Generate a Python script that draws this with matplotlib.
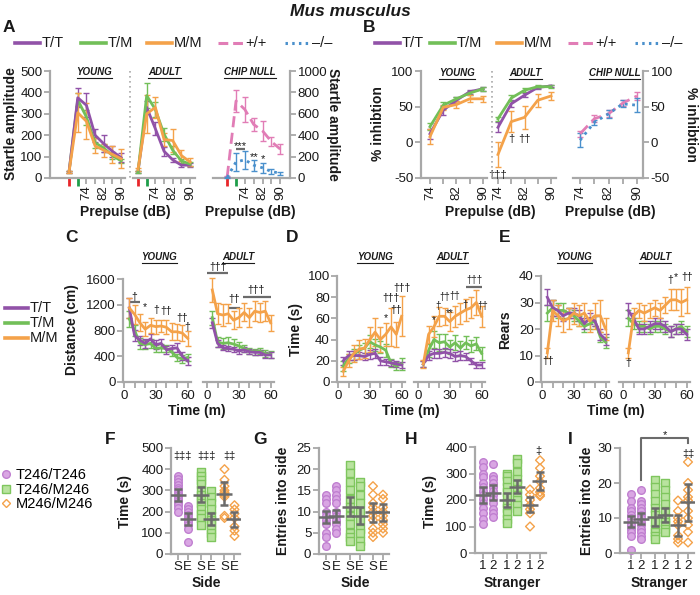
import numpy as np
import matplotlib
matplotlib.use('Agg')
import matplotlib.pyplot as plt
from matplotlib.lines import Line2D

plt.rcParams['font.family'] = ['Liberation Sans', 'DejaVu Sans']
plt.rcParams['axes.unicode_minus'] = False

# ---------------- data ----------------
PP_IDX = [0, 1, 2, 3, 4, 5, 6]          # startle only, pulse alone, 74..90 dB prepulse
PP_TICKLABELS = ['', '', '74', '', '82', '', '90']

A_YOUNG_TT = [30, 375, 340, 200, 160, 125, 95]
A_YOUNG_TT_ERR = [5, 45, 55, 30, 40, 25, 20]
A_YOUNG_TM = [30, 365, 285, 165, 140, 105, 80]
A_YOUNG_TM_ERR = [5, 30, 35, 25, 20, 15, 10]
A_YOUNG_MM = [30, 305, 265, 150, 130, 110, 90]
A_YOUNG_MM_ERR = [5, 90, 85, 35, 30, 40, 45]
A_ADULT_TT = [30, 330, 230, 125, 85, 60, 60]
A_ADULT_TT_ERR = [5, 30, 30, 20, 10, 8, 8]
A_ADULT_TM = [30, 385, 320, 205, 130, 80, 65]
A_ADULT_TM_ERR = [5, 60, 35, 30, 20, 10, 10]
A_ADULT_MM = [40, 300, 330, 180, 175, 105, 75]
A_ADULT_MM_ERR = [5, 90, 50, 30, 55, 25, 20]
A_CHIP_WT = [10, 720, 640, 500, 440, 340, 270]
A_CHIP_WT_ERR = [5, 100, 120, 60, 90, 40, 50]
A_CHIP_KO = [5, 150, 170, 120, 95, 60, 45]
A_CHIP_KO_ERR = [3, 80, 85, 50, 45, 25, 15]
A_CHIP_SIG = [(1.5, 300, '***'), (3, 200, '**'), (4, 175, '*')]
A_CHIP_BAR = [(1, 2, 275)]

PP_DB = [74, 78, 82, 86, 90]
B_YOUNG_TT = [12, 45, 59, 71, 75]
B_YOUNG_TT_ERR = [7, 6, 4, 3, 3]
B_YOUNG_TM = [22, 52, 61, 69, 75]
B_YOUNG_TM_ERR = [5, 5, 3, 3, 3]
B_YOUNG_MM = [8, 49, 53, 61, 61]
B_YOUNG_MM_ERR = [10, 4, 5, 5, 4]
B_ADULT_TT = [21, 54, 66, 77, 79]
B_ADULT_TT_ERR = [7, 5, 3, 2, 2]
B_ADULT_TM = [33, 62, 73, 78, 78]
B_ADULT_TM_ERR = [3, 4, 3, 2, 2]
B_ADULT_MM = [-17, 29, 35, 59, 65]
B_ADULT_MM_ERR = [18, 15, 16, 9, 5]
B_CHIP_WT = [12, 33, 40, 55, 65]
B_CHIP_WT_ERR = [4, 5, 5, 4, 6]
B_CHIP_KO = [3, 28, 40, 54, 52]
B_CHIP_KO_ERR = [10, 4, 6, 5, 10]
B_ADULT_SIG = [(78, 5, '†'), (82, 5, '††'), (74, -46, '†††')]

TIME_MIN = [5, 10, 15, 20, 25, 30, 35, 40, 45, 50, 55, 60]
C_YOUNG_TT = [1150, 720, 650, 600, 670, 580, 600, 500, 520, 530, 400, 330]
C_YOUNG_TM = [980, 800, 600, 580, 600, 520, 530, 520, 470, 380, 360, 380]
C_YOUNG_MM = [1150, 1050, 920, 820, 880, 860, 870, 850, 780, 780, 760, 680]
C_YOUNG_TT_ERR = [150, 90, 70, 70, 80, 70, 70, 60, 60, 70, 60, 60]
C_YOUNG_TM_ERR = [120, 90, 80, 70, 70, 60, 60, 60, 60, 60, 60, 60]
C_YOUNG_MM_ERR = [160, 150, 130, 110, 120, 110, 100, 110, 130, 120, 130, 120]
C_ADULT_TT = [920, 600, 530, 520, 510, 480, 500, 470, 460, 460, 420, 420]
C_ADULT_TM = [1000, 620, 600, 610, 590, 560, 520, 480, 470, 480, 440, 430]
C_ADULT_MM = [1430, 1060, 1040, 1060, 960, 1000, 1080, 1000, 1100, 1080, 1100, 920]
C_ADULT_TT_ERR = [80, 50, 40, 40, 40, 40, 40, 40, 40, 40, 40, 40]
C_ADULT_TM_ERR = [110, 80, 90, 90, 80, 60, 60, 50, 50, 50, 50, 50]
C_ADULT_MM_ERR = [180, 160, 170, 150, 140, 150, 140, 150, 160, 150, 160, 120]
C_YOUNG_SIG = [(10, 1320, '†'), (20, 1160, '*'), (30, 1120, '†'), (40, 1110, '††'), (55, 990, '††'), (60, 860, '†')]
C_YOUNG_BAR = [(6, 15, 1240)]
C_ADULT_SIG = [(10, 1780, '†††'), (26, 1290, '††'), (46, 1430, '†††')]
C_ADULT_BAR = [(0, 20, 1690), (21, 31, 1150), (34, 60, 1320)]

D_YOUNG_TT = [20, 25, 25, 25, 24, 26, 27, 20, 19, 18, 17, 16]
D_YOUNG_TM = [15, 22, 26, 30, 32, 38, 35, 33, 30, 18, 15, 17]
D_YOUNG_MM = [10, 20, 27, 31, 32, 40, 47, 40, 45, 52, 45, 62]
D_YOUNG_TT_ERR = [4, 4, 4, 3, 3, 4, 4, 4, 3, 3, 3, 3]
D_YOUNG_TM_ERR = [5, 4, 5, 5, 5, 6, 6, 6, 6, 4, 4, 6]
D_YOUNG_MM_ERR = [4, 6, 8, 9, 9, 12, 13, 12, 11, 18, 12, 19]
D_ADULT_TT = [17, 25, 27, 27, 28, 27, 24, 25, 24, 20, 16, 16]
D_ADULT_TM = [17, 30, 40, 37, 38, 33, 37, 32, 37, 34, 36, 27]
D_ADULT_MM = [17, 45, 52, 62, 62, 57, 62, 65, 68, 70, 75, 62]
D_ADULT_TT_ERR = [3, 4, 4, 4, 4, 4, 4, 4, 3, 3, 3, 3]
D_ADULT_TM_ERR = [3, 6, 8, 8, 7, 7, 7, 7, 6, 6, 6, 6]
D_ADULT_MM_ERR = [4, 8, 10, 9, 8, 9, 10, 10, 10, 10, 12, 10]
D_YOUNG_SIG = [(45, 60, '*'), (50, 79, '†††'), (55, 68, '††'), (60, 89, '†††')]
D_ADULT_SIG = [(15, 58, '*'), (19, 72, '†'), (25, 80, '††'), (30, 65, '**'), (35, 81, '††'), (44, 73, '†'), (53, 96, '†††'), (61, 72, '††')]
D_ADULT_BAR = [(45, 60, 90)]

E_YOUNG_TT = [32, 28, 27, 25, 26, 26, 25, 22, 24, 23, 18, 16]
E_YOUNG_TM = [26, 28, 27, 27, 26, 25, 23, 21, 22, 23, 17, 15]
E_YOUNG_MM = [11, 27, 25, 23, 24, 26, 25, 26, 23, 25, 25, 20]
E_YOUNG_TT_ERR = [3, 3, 2, 2, 2, 2, 2, 2, 2, 2, 2, 2]
E_YOUNG_TM_ERR = [3, 3, 3, 3, 2, 2, 2, 2, 2, 2, 2, 2]
E_YOUNG_MM_ERR = [2, 4, 4, 4, 4, 4, 4, 4, 4, 5, 6, 4]
E_ADULT_TT = [27, 24, 20, 20, 21, 22, 22, 21, 19, 20, 20, 18]
E_ADULT_TM = [24, 22, 21, 21, 20, 21, 21, 20, 19, 20, 21, 19]
E_ADULT_MM = [11, 25, 27, 26, 27, 28, 27, 29, 31, 31, 30, 31]
E_ADULT_TT_ERR = [3, 2, 2, 2, 2, 2, 2, 2, 2, 2, 2, 2]
E_ADULT_TM_ERR = [3, 2, 2, 2, 2, 2, 2, 2, 2, 2, 2, 2]
E_ADULT_MM_ERR = [2, 3, 3, 3, 3, 3, 3, 3, 4, 4, 5, 5]
E_YOUNG_SIG = [(6, 8, '††')]
E_ADULT_SIG = [(5, 7, '†'), (45, 38.5, '†'), (50, 39.5, '*'), (60, 39.5, '††')]

GENOTYPES = ['T246/T246', 'T246/M246', 'M246/M246']
CAT_POS = [0, 1, 2.35, 3.35, 4.7, 5.7]
SIDE_LABELS = ['S', 'E', 'S', 'E', 'S', 'E']
STRANGER_LABELS = ['1', '2', '1', '2', '1', '2']

F_POINTS = [
    [370, 355, 340, 325, 310, 300, 290, 280, 270, 260, 250, 240, 230, 215, 200],
    [225, 210, 200, 185, 170, 160, 150, 135, 120, 55],
    [385, 370, 350, 330, 300, 280, 255, 240, 210, 190, 170, 135],
    [295, 270, 240, 210, 180, 160, 140, 120, 100, 80],
    [400, 350, 320, 300, 290, 280, 270, 180, 170],
    [230, 210, 190, 170, 130, 110, 85],
]
F_MEAN = [280, 165, 280, 167, 285, 163]
F_ERR = [28, 30, 35, 28, 55, 37]
F_SIG = [(0.5, 462, '‡‡‡'), (2.85, 462, '‡‡‡'), (5.2, 462, '‡‡')]

G_POINTS = [
    [14, 13, 12, 10, 9, 8, 7, 5, 4, 2],
    [16, 15, 14, 13, 12, 10, 9, 8, 7, 6, 5],
    [21, 19, 17, 15, 13, 11, 9, 7, 5, 4, 3],
    [17, 16, 14, 12, 10, 8, 6, 5, 3, 2],
    [16, 14, 12, 11, 10, 9, 8, 6, 5, 4],
    [14, 13, 11, 10, 9, 8, 7, 6, 5],
]
G_MEAN = [8.7, 9.0, 11.2, 9.0, 9.8, 9.8]
G_ERR = [1.5, 1.4, 2.3, 2.0, 2.3, 2.0]

H_POINTS = [
    [345, 325, 300, 285, 265, 250, 235, 220, 205, 190, 170, 150, 130, 110],
    [335, 290, 280, 265, 250, 235, 220, 205, 190, 165, 150, 135],
    [300, 290, 270, 250, 230, 210, 190, 170, 150, 130, 115],
    [355, 340, 305, 280, 260, 240, 220, 200, 180, 160],
    [240, 220, 200, 180, 165, 150, 100],
    [350, 320, 290, 270, 245, 230, 220, 215],
]
H_MEAN = [220, 228, 200, 250, 183, 272]
H_ERR = [30, 28, 25, 25, 30, 35]
H_SIG = [(5.55, 385, '‡')]

I_POINTS = [
    [17, 15, 13, 12, 11, 10, 9, 8, 7, 6, 5, 1],
    [18, 15, 14, 13, 12, 11, 10, 9, 8, 7, 6, 5, 4],
    [21, 19, 17, 15, 13, 11, 9, 7, 6, 5, 4],
    [20, 18, 16, 14, 12, 10, 9, 8, 7, 6],
    [15, 12, 10, 9, 8, 5, 4, 3],
    [26, 20, 18, 16, 15, 12, 10, 8, 6, 3],
]
I_MEAN = [9.0, 9.8, 10.2, 10.8, 8.0, 14.5]
I_ERR = [1.5, 1.6, 2.6, 2.0, 3.0, 5.3]
I_SIG = [(5.7, 28.3, '‡‡')]
I_BRACKET = (1, 5.7, 21, 32.8, 31.3)   # from x1 to x2, left foot, top, right foot
I_BRACKET_TEXT = (3.35, 33.8, '*')

LEGEND_LABELS = ['T/T', 'T/M', 'M/M', '+/+', '–/–']

# ---------------- style ----------------
PURPLE = '#9152a8'
GREEN = '#72bf58'
ORANGE = '#f4a24a'
PINK = '#e17db6'
BLUE = '#4a90cc'
GRAY = '#a8a8a8'
DGRAY = '#6b6b6b'
TXT = '#1a1a1a'
TICKFS = 9.5
LABFS = 10

W, H = 700, 595
fig = plt.figure(figsize=(7, 5.95), dpi=100)

def box(l, t, r, b):
    return fig.add_axes([l / W, 1 - b / H, (r - l) / W, (b - t) / H])

def ftext(x, y, s, **kw):
    kw.setdefault('color', TXT)
    return fig.text(x / W, 1 - y / H, s, **kw)

def style(ax, yside='left'):
    ax.patch.set_alpha(0)
    ax.spines['top'].set_visible(False)
    ax.spines['left'].set_visible(yside == 'left')
    ax.spines['right'].set_visible(yside == 'right')
    for s in ax.spines.values():
        s.set_color(GRAY)
        s.set_linewidth(1.6)
    ax.tick_params(color=GRAY, width=1.3, length=4, labelsize=TICKFS, pad=1.5, labelcolor=TXT)
    if yside == 'right':
        ax.yaxis.tick_right()
    elif yside is None:
        ax.tick_params(axis='y', left=False, labelleft=False)

def series(ax, x, y, err, color, ls='-', z=3):
    kw = dict(color=color, lw=2.0, elinewidth=1.0, capsize=2.0, capthick=1.0, clip_on=False, zorder=z)
    if ls == '--':
        c = ax.errorbar(x, y, yerr=err, ls='--', dashes=(4, 2), **kw)
    elif ls == ':':
        c = ax.errorbar(x, y, yerr=err, ls=':', **kw)
    else:
        c = ax.errorbar(x, y, yerr=err, ls='-', **kw)
    for bar in c[2]:
        bar.set_clip_on(False)
    return c

def sig(ax, items, fs=8):
    for x, y, s in items:
        ax.text(x, y, s, ha='center', va='center', fontsize=fs, color=TXT, clip_on=False)

def bars(ax, items):
    for x0, x1, y in items:
        ax.plot([x0, x1], [y, y], color=DGRAY, lw=1.6, clip_on=False, solid_capstyle='butt')

underline = []
def title(x, y, s):
    t = ftext(x, y, s, fontsize=7, fontweight='bold', fontstyle='italic', ha='center', va='center')
    underline.append(t)

def vline(x, y0, y1):
    fig.add_artist(Line2D([x / W, x / W], [1 - y0 / H, 1 - y1 / H], color=GRAY, lw=1.2, ls=(0, (1, 2))))

LEG_STYLES = [dict(color=PURPLE, lw=2.6), dict(color=GREEN, lw=2.6), dict(color=ORANGE, lw=2.6),
              dict(color=PINK, lw=2.2, ls=(0, (3.2, 1.6))), dict(color=BLUE, lw=2.2, ls=(0, (0.8, 1.4)))]

def legend_row(starts, y, labels, styles, hl=25, gap=2, fs=10.5):
    for x0, lab, st in zip(starts, labels, styles):
        fig.add_artist(Line2D([x0 / W, (x0 + hl) / W], [1 - y / H, 1 - y / H], **st))
        ftext(x0 + hl + gap, y, lab, fontsize=fs, ha='left', va='center')

# ---------------- header ----------------
ftext(350, 12, 'Mus musculus', fontsize=12.5, fontweight='bold', fontstyle='italic', ha='center', va='center')
for x, y, s in [(9, 28, 'A'), (369, 28, 'B'), (71, 238, 'C'), (292, 238, 'D'), (505, 238, 'E'),
                (110, 439, 'F'), (260, 439, 'G'), (411, 439, 'H'), (570, 439, 'I')]:
    ftext(x, y, s, fontsize=12.5, fontweight='bold', ha='center', va='center')

legend_row([15, 81, 147, 218, 285], 43, LEGEND_LABELS, LEG_STYLES)
legend_row([375, 430, 497, 568, 635], 43, LEGEND_LABELS, LEG_STYLES)

# ---------------- panel A ----------------
def pp_axis(ax):
    ax.set_xticks(PP_IDX)
    ax.set_xticklabels(PP_TICKLABELS, rotation=90)
    ticks = ax.xaxis.get_major_ticks()
    ticks[0].tick1line.set_markeredgecolor('#e8262a')
    ticks[1].tick1line.set_markeredgecolor('#1e9e4a')
    for t in ticks[:2]:
        t.tick1line.set_markeredgewidth(2.0)
        t.tick1line.set_markersize(6)

axA1 = box(50, 71, 125, 178)
style(axA1, 'left')
axA1.set_xlim(-2.2, 6.45)
axA1.set_ylim(0, 500)
axA1.set_yticks([0, 100, 200, 300, 400, 500])
pp_axis(axA1)
series(axA1, PP_IDX, A_YOUNG_TM, A_YOUNG_TM_ERR, GREEN)
series(axA1, PP_IDX, A_YOUNG_TT, A_YOUNG_TT_ERR, PURPLE)
series(axA1, PP_IDX, A_YOUNG_MM, A_YOUNG_MM_ERR, ORANGE)

axA2 = box(133, 71, 195, 178)
style(axA2, None)
axA2.set_xlim(-0.58, 6.57)
axA2.set_ylim(0, 500)
pp_axis(axA2)
series(axA2, PP_IDX, A_ADULT_TT, A_ADULT_TT_ERR, PURPLE)
series(axA2, PP_IDX, A_ADULT_TM, A_ADULT_TM_ERR, GREEN)
series(axA2, PP_IDX, A_ADULT_MM, A_ADULT_MM_ERR, ORANGE)

axA3 = box(213, 71, 290, 178)
style(axA3, 'right')
axA3.set_xlim(-1.6, 7.1)
axA3.set_ylim(0, 1000)
axA3.set_yticks([0, 200, 400, 600, 800, 1000])
pp_axis(axA3)
series(axA3, PP_IDX, A_CHIP_WT, A_CHIP_WT_ERR, PINK, ls='--')
series(axA3, PP_IDX, A_CHIP_KO, A_CHIP_KO_ERR, BLUE, ls=':')
bars(axA3, A_CHIP_BAR)
sig(axA3, A_CHIP_SIG, fs=8)

vline(130, 71, 178)
title(94.5, 72, 'YOUNG'); title(164.5, 72, 'ADULT'); title(250, 72, 'CHIP NULL')
ftext(11, 124, 'Startle amplitude', fontsize=LABFS, fontweight='bold', rotation=90, ha='center', va='center')
ftext(333, 124, 'Startle amplitude', fontsize=LABFS, fontweight='bold', rotation=270, ha='center', va='center')
ftext(125, 212, 'Prepulse (dB)', fontsize=LABFS, fontweight='bold', ha='center', va='center')
ftext(250, 212, 'Prepulse (dB)', fontsize=LABFS, fontweight='bold', ha='center', va='center')

# ---------------- panel B ----------------
def db_axis(ax):
    ax.set_xticks(PP_DB)
    ax.set_xticklabels(['74', '', '82', '', '90'], rotation=90)

axB1 = box(421, 71, 487, 178)
style(axB1, 'left')
axB1.set_xlim(71.3, 91.2)
axB1.set_ylim(-50, 100)
axB1.set_yticks([-50, 0, 50, 100])
db_axis(axB1)
series(axB1, PP_DB, B_YOUNG_TT, B_YOUNG_TT_ERR, PURPLE)
series(axB1, PP_DB, B_YOUNG_TM, B_YOUNG_TM_ERR, GREEN)
series(axB1, PP_DB, B_YOUNG_MM, B_YOUNG_MM_ERR, ORANGE)

axB2 = box(494, 71, 556, 178)
style(axB2, None)
axB2.set_xlim(72.8, 91.5)
axB2.set_ylim(-50, 100)
db_axis(axB2)
series(axB2, PP_DB, B_ADULT_TT, B_ADULT_TT_ERR, PURPLE)
series(axB2, PP_DB, B_ADULT_TM, B_ADULT_TM_ERR, GREEN)
series(axB2, PP_DB, B_ADULT_MM, B_ADULT_MM_ERR, ORANGE)
sig(axB2, B_ADULT_SIG, fs=8)

axB3 = box(573, 71, 643, 178)
style(axB3, 'right')
axB3.set_xlim(72.0, 91.7)
axB3.set_ylim(-50, 100)
axB3.set_yticks([-50, 0, 50, 100])
db_axis(axB3)
series(axB3, PP_DB, B_CHIP_WT, B_CHIP_WT_ERR, PINK, ls='--')
series(axB3, PP_DB, B_CHIP_KO, B_CHIP_KO_ERR, BLUE, ls=':')

vline(492, 71, 178)
title(457, 73, 'YOUNG'); title(525.5, 73, 'ADULT'); title(614.5, 73, 'CHIP NULL')
ftext(378, 124, '% inhibtion', fontsize=LABFS, fontweight='bold', rotation=90, ha='center', va='center')
ftext(691, 124, '% inhibtion', fontsize=LABFS, fontweight='bold', rotation=270, ha='center', va='center')
ftext(490, 212, 'Prepulse (dB)', fontsize=LABFS, fontweight='bold', ha='center', va='center')
ftext(610, 212, 'Prepulse (dB)', fontsize=LABFS, fontweight='bold', ha='center', va='center')

# ---------------- panels C, D, E ----------------
PXM = 1.06
def time_axes(zero, young, ylim, yticks):
    if young:
        ax = box(zero - 0.5 * PXM, ylim[2], zero + 63 * PXM, ylim[3])
        style(ax, 'left')
        ax.set_xlim(-0.5, 63)
        ax.set_yticks(yticks)
    else:
        ax = box(zero - 4 * PXM, ylim[2], zero + 63 * PXM, ylim[3])
        style(ax, None)
        ax.set_xlim(-4, 63)
    ax.set_ylim(ylim[0], ylim[1])
    ax.set_xticks([0, 10, 20, 30, 40, 50, 60])
    ax.set_xticklabels(['0', '', '', '30', '', '', '60'])
    return ax

def three(ax, tt, tte, tm, tme, mm, mme):
    series(ax, TIME_MIN, tm, tme, GREEN)
    series(ax, TIME_MIN, tt, tte, PURPLE)
    series(ax, TIME_MIN, mm, mme, ORANGE)

CY = (0, 1600, 279, 382)
axC1 = time_axes(124, True, CY, [0, 400, 800, 1200, 1600])
three(axC1, C_YOUNG_TT, C_YOUNG_TT_ERR, C_YOUNG_TM, C_YOUNG_TM_ERR, C_YOUNG_MM, C_YOUNG_MM_ERR)
bars(axC1, C_YOUNG_BAR); sig(axC1, C_YOUNG_SIG, fs=7.5)
axC2 = time_axes(207, False, CY, None)
three(axC2, C_ADULT_TT, C_ADULT_TT_ERR, C_ADULT_TM, C_ADULT_TM_ERR, C_ADULT_MM, C_ADULT_MM_ERR)
bars(axC2, C_ADULT_BAR); sig(axC2, C_ADULT_SIG, fs=7.5)

DY = (0, 100, 276, 382)
axD1 = time_axes(338, True, DY, [0, 20, 40, 60, 80, 100])
three(axD1, D_YOUNG_TT, D_YOUNG_TT_ERR, D_YOUNG_TM, D_YOUNG_TM_ERR, D_YOUNG_MM, D_YOUNG_MM_ERR)
sig(axD1, D_YOUNG_SIG, fs=7.5)
axD2 = time_axes(418, False, DY, None)
three(axD2, D_ADULT_TT, D_ADULT_TT_ERR, D_ADULT_TM, D_ADULT_TM_ERR, D_ADULT_MM, D_ADULT_MM_ERR)
bars(axD2, D_ADULT_BAR); sig(axD2, D_ADULT_SIG, fs=7)

EY = (0, 40, 276, 382)
axE1 = time_axes(542, True, EY, [0, 10, 20, 30, 40])
three(axE1, E_YOUNG_TT, E_YOUNG_TT_ERR, E_YOUNG_TM, E_YOUNG_TM_ERR, E_YOUNG_MM, E_YOUNG_MM_ERR)
sig(axE1, E_YOUNG_SIG, fs=7.5)
axE2 = time_axes(623, False, EY, None)
three(axE2, E_ADULT_TT, E_ADULT_TT_ERR, E_ADULT_TM, E_ADULT_TM_ERR, E_ADULT_MM, E_ADULT_MM_ERR)
sig(axE2, E_ADULT_SIG, fs=7.5)

title(159.5, 257, 'YOUNG'); title(238, 257, 'ADULT')
title(375, 257, 'YOUNG'); title(452, 257, 'ADULT')
title(574.5, 257, 'YOUNG'); title(655, 257, 'ADULT')
ftext(72, 330, 'Distance (cm)', fontsize=LABFS, fontweight='bold', rotation=90, ha='center', va='center')
ftext(296, 330, 'Time (s)', fontsize=LABFS, fontweight='bold', rotation=90, ha='center', va='center')
ftext(505, 330, 'Rears', fontsize=LABFS, fontweight='bold', rotation=90, ha='center', va='center')
ftext(197, 411, 'Time (m)', fontsize=LABFS, fontweight='bold', ha='center', va='center')
ftext(411, 411, 'Time (m)', fontsize=LABFS, fontweight='bold', ha='center', va='center')
ftext(616, 411, 'Time (m)', fontsize=LABFS, fontweight='bold', ha='center', va='center')

for i in range(3):
    legend_row([5], 308 + 15 * i, [LEGEND_LABELS[i]], [LEG_STYLES[i]], hl=23, gap=2)

# ---------------- panels F, G, H, I ----------------
MARKERS = [dict(marker='o', facecolor='#d9a6e3', edgecolor='#c07fd0'),
           dict(marker='s', facecolor='#b9e39f', edgecolor='#7fc65e'),
           dict(marker='D', facecolor='none', edgecolor=ORANGE)]
MSIZE = [30, 28, 20]

def dot_panel(spine_x, xleft, top, bottom, ymax, yticks, points, means, errs, labels):
    right = spine_x + (6.3 - xleft) * 10
    ax = box(spine_x, top, right, bottom)
    style(ax, 'left')
    ax.set_xlim(xleft, 6.3)
    ax.set_ylim(0, ymax)
    ax.set_yticks(yticks)
    ax.set_xticks(CAT_POS)
    ax.set_xticklabels(labels)
    ax.tick_params(axis='x', pad=1)
    for i, (p, vals) in enumerate(zip(CAT_POS, points)):
        m = MARKERS[i // 2]
        ax.scatter([p] * len(vals), vals, s=MSIZE[i // 2], marker=m['marker'], facecolor=m['facecolor'],
                   edgecolor=m['edgecolor'], linewidths=1.0, zorder=2, clip_on=False)
    ax.errorbar(CAT_POS, means, yerr=errs, fmt='_', markersize=11, mew=1.8, color=DGRAY,
                elinewidth=1.8, capsize=3, capthick=1.6, zorder=4)
    return ax

axF = dot_panel(171, -0.65, 448, 554, 500, [0, 100, 200, 300, 400, 500], F_POINTS, F_MEAN, F_ERR, SIDE_LABELS)
sig(axF, F_SIG, fs=8)
axG = dot_panel(319, -0.7, 448, 554, 25, [0, 5, 10, 15, 20, 25], G_POINTS, G_MEAN, G_ERR, SIDE_LABELS)
axH = dot_panel(475, -0.8, 447, 553, 400, [0, 100, 200, 300, 400], H_POINTS, H_MEAN, H_ERR, STRANGER_LABELS)
sig(axH, H_SIG, fs=8)
axI = dot_panel(620, -1.1, 448, 553, 30, [0, 10, 20, 30], I_POINTS, I_MEAN, I_ERR, STRANGER_LABELS)
sig(axI, I_SIG, fs=8)
bx1, bx2, by1, bytop, by2 = I_BRACKET
axI.plot([bx1, bx1, bx2, bx2], [by1, bytop, bytop, by2], color=DGRAY, lw=1.5, clip_on=False)
axI.text(I_BRACKET_TEXT[0], I_BRACKET_TEXT[1], I_BRACKET_TEXT[2], ha='center', va='center', fontsize=8, color=TXT)

ftext(125, 501, 'Time (s)', fontsize=LABFS, fontweight='bold', rotation=90, ha='center', va='center')
ftext(283, 501, 'Entries into side', fontsize=LABFS, fontweight='bold', rotation=90, ha='center', va='center')
ftext(430, 501, 'Time (s)', fontsize=LABFS, fontweight='bold', rotation=90, ha='center', va='center')
ftext(587, 501, 'Entries into side', fontsize=LABFS, fontweight='bold', rotation=90, ha='center', va='center')
ftext(206, 583, 'Side', fontsize=LABFS, fontweight='bold', ha='center', va='center')
ftext(355, 583, 'Side', fontsize=LABFS, fontweight='bold', ha='center', va='center')
ftext(512, 583, 'Stranger', fontsize=LABFS, fontweight='bold', ha='center', va='center')
ftext(659, 583, 'Stranger', fontsize=LABFS, fontweight='bold', ha='center', va='center')

geno_handles = [Line2D([], [], ls='none', marker='o', markersize=5.5, markerfacecolor='#d9a6e3', markeredgecolor='#c07fd0'),
                Line2D([], [], ls='none', marker='s', markersize=5.2, markerfacecolor='#b9e39f', markeredgecolor='#7fc65e'),
                Line2D([], [], ls='none', marker='D', markersize=4.5, markerfacecolor='none', markeredgecolor=ORANGE)]
fig.legend(geno_handles, GENOTYPES, loc='upper left', bbox_to_anchor=(0 / W, 1 - 468 / H), ncol=1,
           frameon=False, fontsize=10.5, handlelength=0.8, handletextpad=0.3, labelspacing=0.05,
           borderpad=0, borderaxespad=0)

# underline the small titles
fig.canvas.draw()
r = fig.canvas.get_renderer()
for t in underline:
    bb = t.get_window_extent(r)
    y = (bb.y0 - 0.5) / H
    fig.add_artist(Line2D([bb.x0 / W, bb.x1 / W], [y, y], color=TXT, lw=0.8))

fig.savefig('out.png', dpi=100)
